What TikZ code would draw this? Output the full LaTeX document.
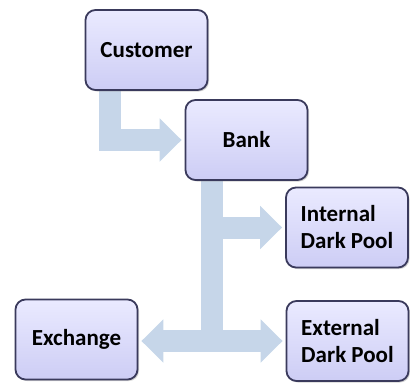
\documentclass[tikz,border=0pt]{standalone}
\usepackage{fontspec}
\setmainfont{Carlito}
\usepackage{xcolor}
\definecolor{BoxLine}{HTML}{3A3A5C}
\definecolor{BoxTop}{HTML}{EAEAFF}
\definecolor{BoxBot}{HTML}{CDCDF5}
\definecolor{FlowBlue}{HTML}{C6D6E9}
\usepackage{tikz}
\usetikzlibrary{arrows.meta,positioning,shadows,backgrounds}

\begin{document}
\begin{tikzpicture}[
  x=1bp, y=-1bp,
  box/.style={rounded corners=10bp, draw=BoxLine, line width=1.8bp, top color=BoxTop, bottom color=BoxBot,
    drop shadow={opacity=0.35, shadow xshift=1.5bp, shadow yshift=-1.5bp},
    minimum width=122bp, minimum height=80bp, align=left, inner sep=0pt,
    font=\fontsize{23bp}{27bp}\selectfont\bfseries},
  flow/.style={line width=22bp, draw=FlowBlue, line join=miter},
  arrow/.style={flow, -{Triangle[width=42bp, length=22bp]}, shorten >=3bp},
  twoway/.style={flow, {Triangle[width=42bp, length=22bp]}-{Triangle[width=42bp, length=22bp]}, shorten >=3bp, shorten <=3bp},
]
\useasboundingbox (0,0) rectangle (410,385);
\node[box] (customer) at (146.5,50) {Customer};
\node[box] (bank) at (246.5,140) {Bank};
\node[box] (internal) at (347,227.5) {Internal\\Dark Pool};
\node[box] (external) at (347.5,341) {External\\Dark Pool};
\node[box] (exchange) at (76.5,339.5) {Exchange};
% flows go behind the boxes
\begin{scope}[on background layer]
\coordinate (custstem) at ([xshift=25bp]customer.south west);
\coordinate (bankstem) at ([xshift=27bp]bank.south west);
\draw[arrow] (custstem) |- (bank.west);
\draw[arrow] (bankstem) |- (internal.west);
\draw[flow, line cap=rect] (bankstem) -- (bankstem |- external.west);
\draw[twoway] (exchange.east |- external.west) -- (external.west);
\end{scope}
\end{tikzpicture}
\end{document}
